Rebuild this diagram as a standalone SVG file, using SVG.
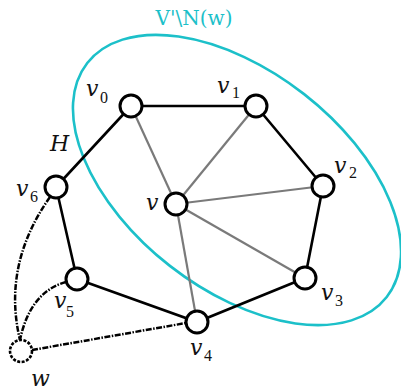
<svg xmlns="http://www.w3.org/2000/svg" width="401" height="392" viewBox="0 0 401 392">
<style>
.node{fill:#fff;stroke:#000;stroke-width:3}
.cyc{stroke:#000;stroke-width:2.6;fill:none}
.spoke{stroke:#7a7a7a;stroke-width:2.2;fill:none}
.dash{stroke:#000;stroke-width:2.5;fill:none;stroke-dasharray:6 1.5 1.5 1.5}
.lbl{font-family:"DejaVu Serif",serif;font-style:italic;font-size:22px;fill:#111}
.sub{font-family:"Liberation Serif",serif;font-size:16px;fill:#111}
</style>
<rect width="401" height="392" fill="#fff"/>
<g id="region">
<ellipse cx="237" cy="180" rx="190" ry="109" transform="rotate(38 237 180)" fill="none" stroke="#1cc0c9" stroke-width="2.6"/>
<text x="194" y="25" text-anchor="middle" font-family="DejaVu Serif,serif" font-size="20" fill="#1cc0c9">V'\N(w)</text>
</g>
<g id="connectors">
<polyline class="cyc" points="131,106 256,106 323,186 305,278 197,322 77,279 56,187 131,106"/>
<line class="spoke" x1="176" y1="204" x2="131" y2="106"/>
<line class="spoke" x1="176" y1="204" x2="256" y2="106"/>
<line class="spoke" x1="176" y1="204" x2="323" y2="186"/>
<line class="spoke" x1="176" y1="204" x2="305" y2="278"/>
<line class="spoke" x1="176" y1="204" x2="197" y2="322"/>
<path class="dash" d="M50,197 Q2,265 20,340"/>
<path class="dash" d="M66,282 Q30,292 20,340"/>
<line class="dash" x1="32" y1="350" x2="186" y2="323"/>
</g>
<g id="w"><circle cx="21" cy="351" r="11" fill="#fff" stroke="#000" stroke-width="2.6" stroke-dasharray="3 1.5"/><text class="lbl" x="31" y="386">w</text></g>
<g id="v0"><circle class="node" cx="131" cy="106" r="11"/><text class="lbl" x="86" y="96">v</text><text class="sub" x="100" y="103">0</text></g>
<g id="v1"><circle class="node" cx="256" cy="106" r="11"/><text class="lbl" x="217" y="93">v</text><text class="sub" x="232" y="98">1</text></g>
<g id="v2"><circle class="node" cx="323" cy="186" r="11"/><text class="lbl" x="334" y="173">v</text><text class="sub" x="349" y="178">2</text></g>
<g id="v3"><circle class="node" cx="305" cy="278" r="11"/><text class="lbl" x="321" y="300">v</text><text class="sub" x="335" y="306">3</text></g>
<g id="v4"><circle class="node" cx="197" cy="322" r="11"/><text class="lbl" x="190" y="355">v</text><text class="sub" x="204" y="361">4</text></g>
<g id="v5"><circle class="node" cx="77" cy="279" r="11"/><text class="lbl" x="54" y="308">v</text><text class="sub" x="66" y="317">5</text></g>
<g id="v6"><circle class="node" cx="56" cy="187" r="11"/><text class="lbl" x="16" y="196">v</text><text class="sub" x="30" y="202">6</text></g>
<g id="v"><circle class="node" cx="176" cy="204" r="11" stroke="#333"/><text class="lbl" x="146" y="210">v</text></g>
<g id="H"><text class="lbl" x="50" y="151">H</text></g>
</svg>
